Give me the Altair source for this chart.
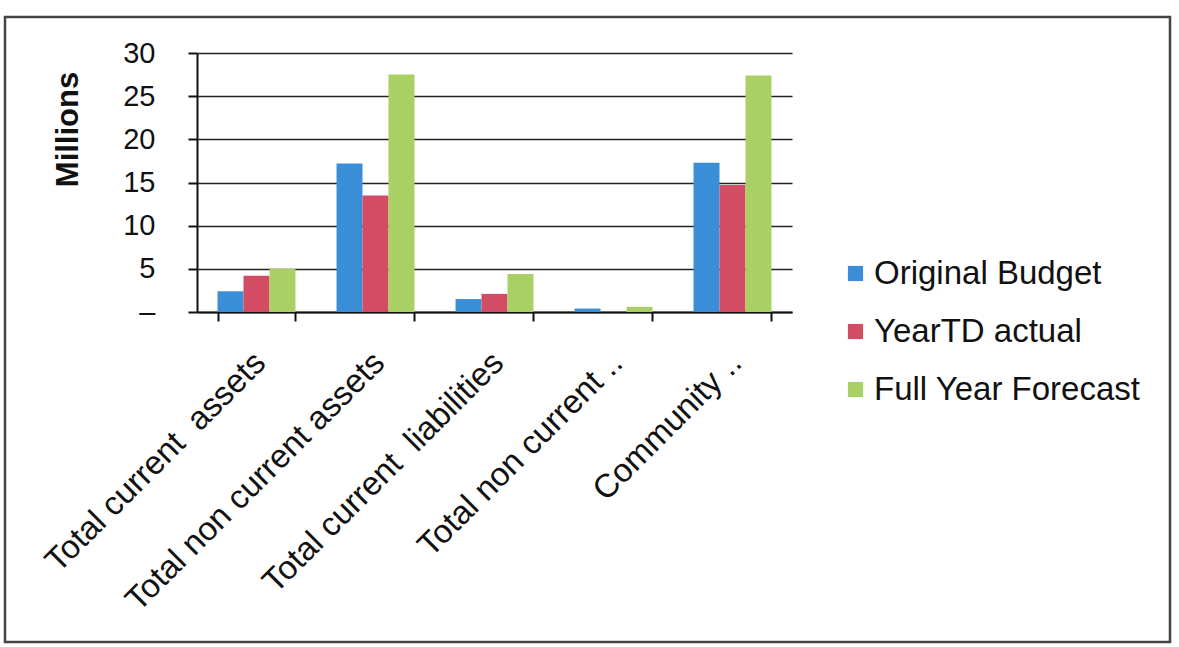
import altair as alt
import pandas as pd

categories = [
    "Total current\u00a0 assets",
    "Total non current assets",
    "Total current\u00a0 liabilities",
    "Total non current ..",
    "Community ..",
]
series = ["Original Budget", "YearTD actual", "Full Year Forecast"]
original_budget = [2.4, 17.2, 1.5, 0.4, 17.3]
yeartd_actual = [4.2, 13.5, 2.1, 0.0, 14.7]
full_year_forecast = [5.0, 27.5, 4.4, 0.6, 27.4]
colors = ["#3A8ED8", "#D24C64", "#A8D065"]
y_ticks = [0, 5, 10, 15, 20, 25, 30]

rows = []
for s, vals in zip(series, [original_budget, yeartd_actual, full_year_forecast]):
    for c, v in zip(categories, vals):
        rows.append({"Category": c, "Series": s, "Value": v})
df = pd.DataFrame(rows)

FONT = "Liberation Sans"

bars = alt.Chart(df).mark_bar().encode(
    x=alt.X(
        "Category:N",
        sort=categories,
        scale=alt.Scale(paddingInner=0.345, paddingOuter=0.1725),
        axis=alt.Axis(
            title=None,
            labelAngle=315,
            labelAlign="right",
            labelBaseline="top",
            labelFontSize=33,
            labelFont=FONT,
            labelColor="#111",
            labelPadding=25,
            labelOffset=-8,
            tickBand="extent",
            ticks=True,
            tickSize=9,
            tickColor="#111",
            tickWidth=2,
            domainColor="#111",
            domainWidth=2,
            grid=False,
            labelLimit=600,
        ),
    ),
    xOffset=alt.XOffset("Series:N", sort=series),
    y=alt.Y(
        "Value:Q",
        scale=alt.Scale(domain=[0, 30], nice=False),
        axis=alt.Axis(
            title="Millions",
            titleFont=FONT,
            titleFontSize=31,
            titleFontWeight="bold",
            titleColor="#111",
            titleX=-129,
            titleY=76,
            titleAlign="center",
            titleBaseline="middle",
            titleAngle=270,
            values=y_ticks,
            labelExpr="datum.value == 0 ? '\u2013' : datum.label",
            labelFont=FONT,
            labelFontSize=29,
            labelColor="#111",
            labelPadding=33,
            tickSize=9,
            tickColor="#111",
            tickWidth=2,
            domainColor="#111",
            domainWidth=2,
            grid=True,
            gridColor="#222",
            gridWidth=1.6,
        ),
    ),
    color=alt.Color(
        "Series:N",
        sort=series,
        scale=alt.Scale(domain=series, range=colors),
        legend=alt.Legend(
            title=None,
            orient="none",
            legendX=642,
            legendY=204,
            padding=0,
            symbolType="square",
            symbolSize=230,
            symbolStrokeWidth=0,
            labelFont=FONT,
            labelFontSize=33,
            labelColor="#111",
            labelOffset=2,
            rowPadding=24,
            labelLimit=400,
        ),
    ),
)

frame = alt.Chart(pd.DataFrame({"k": [1]})).mark_rect(
    fillOpacity=0, stroke="#444", strokeWidth=2.5
).encode(
    x=alt.value(-192), x2=alt.value(973), y=alt.value(-36), y2=alt.value(589)
)

chart = alt.layer(frame, bars).properties(
    width=595,
    height=259,
    autosize=alt.AutoSizeParams(type="none"),
    padding={"left": 197, "top": 53, "right": 387, "bottom": 335},
    background="white",
).configure_view(stroke=None)

chart.save("out.html", embed_options={"renderer": "svg", "actions": False})
